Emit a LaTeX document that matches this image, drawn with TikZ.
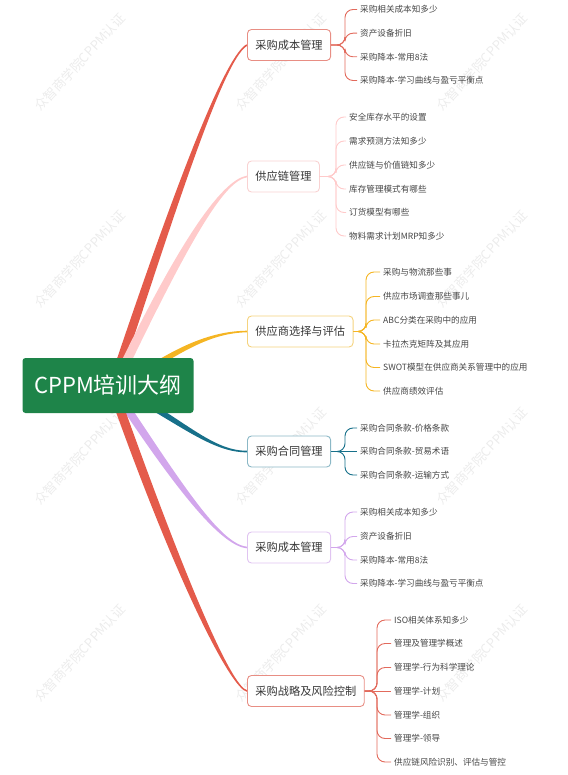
\documentclass[tikz,border=0pt]{standalone}
\usepackage{fontspec}
\setmainfont{Noto Sans CJK SC}
\usetikzlibrary{calc,backgrounds}
\definecolor{rootgreen}{HTML}{1E8449}
\definecolor{cred}{HTML}{E45B4B}
\definecolor{credbox}{HTML}{E88E84}
\definecolor{credleaf}{HTML}{E26A5C}
\definecolor{cpink}{HTML}{FFCACA}
\definecolor{cpinkbox}{HTML}{F9D2D2}
\definecolor{cyellow}{HTML}{F5B523}
\definecolor{cyellowbox}{HTML}{F5D37E}
\definecolor{cteal}{HTML}{17708A}
\definecolor{ctealbox}{HTML}{8BB8C6}
\definecolor{cpurple}{HTML}{D2A6EC}
\definecolor{cpurplebox}{HTML}{E0C4F1}
\definecolor{txtdark}{HTML}{363636}
\definecolor{txtleaf}{HTML}{454545}
\definecolor{wmgray}{HTML}{ECECEC}
\newcommand\taperline[7]{%
  \fill[#1] ($(#2)!#6!90:(#3)$) .. controls ($(#3)!#6!-90:(#2)$) and ($(#4)!#7!90:(#5)$) .. ($(#5)!#7!-90:(#4)$)
    -- ($(#5)!#7!90:(#4)$) .. controls ($(#4)!#7!-90:(#5)$) and ($(#3)!#6!90:(#2)$) .. ($(#2)!#6!-90:(#3)$) -- cycle;}
\tikzset{
  rootbox/.style={fill=rootgreen, rounded corners=3pt, minimum width=171pt, minimum height=55pt,
    text=white, font=\fontsize{22}{26}\selectfont, inner sep=0pt},
  branchbox/.style={draw=#1, fill=white, line width=0.9pt, rounded corners=4pt, minimum height=31pt,
    inner xsep=8pt, inner ysep=0pt, anchor=west, text=txtdark, font=\fontsize{11.2}{13}\selectfont},
  leafnode/.style={anchor=west, inner xsep=3pt, inner ysep=1pt, text=txtleaf,
    font=\fontsize{8.6}{10}\selectfont},
  leaflink/.style={draw=#1, line width=0.9pt, rounded corners=8pt},
  wmark/.style={text=wmgray, rotate=47, font=\fontsize{13}{15}\selectfont, inner sep=0pt}
}
\begin{document}
\begin{tikzpicture}[x=1pt,y=-1pt]
\useasboundingbox (0,0) rectangle (567,775);

% ---------- nodes ----------
\node[rootbox] (root) at (108,385.5) {CPPM培训大纲};

\node[branchbox=credbox]    (b1) at (247,45)    {采购成本管理};
\node[branchbox=cpinkbox]   (b2) at (247,176.5) {供应链管理};
\node[branchbox=cyellowbox] (b3) at (247,331.5) {供应商选择与评估};
\node[branchbox=ctealbox]   (b4) at (247,451.5) {采购合同管理};
\node[branchbox=cpurplebox] (b5) at (247,547.5) {采购成本管理};
\node[branchbox=credbox]    (b6) at (247,691)   {采购战略及风险控制};

% leaves branch 1
\node[leafnode] (l11) at (357,9.5)  {采购相关成本知多少};
\node[leafnode] (l12) at (357,33.2) {资产设备折旧};
\node[leafnode] (l13) at (357,56.8) {采购降本-常用8法};
\node[leafnode] (l14) at (357,80.5) {采购降本-学习曲线与盈亏平衡点};
% leaves branch 2
\node[leafnode] (l21) at (346,117) {安全库存水平的设置};
\node[leafnode] (l22) at (346,141) {需求预测方法知多少};
\node[leafnode] (l23) at (346,165) {供应链与价值链知多少};
\node[leafnode] (l24) at (346,189) {库存管理模式有哪些};
\node[leafnode] (l25) at (346,212.5) {订货模型有哪些};
\node[leafnode] (l26) at (346,236) {物料需求计划MRP知多少};
% leaves branch 3
\node[leafnode] (l31) at (380,272) {采购与物流那些事};
\node[leafnode] (l32) at (380,296.5) {供应市场调查那些事儿};
\node[leafnode] (l33) at (380,320) {ABC分类在采购中的应用};
\node[leafnode] (l34) at (380,344) {卡拉杰克矩阵及其应用};
\node[leafnode] (l35) at (380,367.5) {SWOT模型在供应商关系管理中的应用};
\node[leafnode] (l36) at (380,391) {供应商绩效评估};
% leaves branch 4
\node[leafnode] (l41) at (357,428) {采购合同条款-价格条款};
\node[leafnode] (l42) at (357,451.5) {采购合同条款-贸易术语};
\node[leafnode] (l43) at (357,475) {采购合同条款-运输方式};
% leaves branch 5
\node[leafnode] (l51) at (357,512) {采购相关成本知多少};
\node[leafnode] (l52) at (357,536.5) {资产设备折旧};
\node[leafnode] (l53) at (357,560) {采购降本-常用8法};
\node[leafnode] (l54) at (357,583.5) {采购降本-学习曲线与盈亏平衡点};
% leaves branch 6
\node[leafnode] (l61) at (391,620) {ISO相关体系知多少};
\node[leafnode] (l62) at (391,643.5) {管理及管理学概述};
\node[leafnode] (l63) at (391,667.5) {管理学-行为科学理论};
\node[leafnode] (l64) at (391,691) {管理学-计划};
\node[leafnode] (l65) at (391,715) {管理学-组织};
\node[leafnode] (l66) at (391,738.5) {管理学-领导};
\node[leafnode] (l67) at (391,762) {供应链风险识别、评估与管控};

% spine positions
\coordinate (s1) at (345,0);
\coordinate (s2) at (336,0);
\coordinate (s3) at (366,0);
\coordinate (s4) at (345,0);
\coordinate (s5) at (345,0);
\coordinate (s6) at (377,0);

% ---------- leaf connectors ----------
\foreach \l in {l11,l12,l13,l14}
  \draw[leaflink=credleaf] (b1.east) -- (b1.east -| s1) |- (\l.west);
\foreach \l in {l21,l22,l23,l24,l25,l26}
  \draw[leaflink=cpink] (b2.east) -- (b2.east -| s2) |- (\l.west);
\foreach \l in {l31,l32,l33,l34,l35,l36}
  \draw[leaflink=cyellow] (b3.east) -- (b3.east -| s3) |- (\l.west);
\foreach \l in {l41,l43}
  \draw[leaflink=cteal] (b4.east) -- (b4.east -| s4) |- (\l.west);
\draw[leaflink=cteal] (b4.east) -- (l42.west);
\foreach \l in {l51,l52,l53,l54}
  \draw[leaflink=cpurple] (b5.east) -- (b5.east -| s5) |- (\l.west);
\foreach \l in {l61,l62,l63,l65,l66,l67}
  \draw[leaflink=credleaf] (b6.east) -- (b6.east -| s6) |- (\l.west);
\draw[leaflink=credleaf] (b6.east) -- (l64.west);

% ---------- background: watermarks and main branches ----------
\begin{pgfonlayer}{background}
  \foreach \wx/\wy [count=\i] in {80/62,281/62,482/62,80/259,281/259,482/259,80/456,281/456,482/456,80/653,281/653,482/653}
    \node[wmark] (wm\i) at (\wx,\wy) {众智商学院CPPM认证};

  \coordinate (r1a) at (113,385);
  \coordinate (r1b) at (165,230);
  \coordinate (r1c) at (222,58);
  \taperline{cred}{r1a}{r1b}{r1c}{b1.west}{4.6pt}{0.8pt}

  \coordinate (r2a) at (115,385);
  \coordinate (r2b) at (189,230);
  \coordinate (r2c) at (225,180);
  \taperline{cpink}{r2a}{r2b}{r2c}{b2.west}{4.6pt}{0.8pt}

  \coordinate (r3a) at (140,375);
  \coordinate (r3b) at (185,345);
  \coordinate (r3c) at (215,332);
  \taperline{cyellow}{r3a}{r3b}{r3c}{b3.west}{3pt}{0.8pt}

  \coordinate (r4a) at (140,400);
  \coordinate (r4b) at (185,425);
  \coordinate (r4c) at (215,452);
  \taperline{cteal}{r4a}{r4b}{r4c}{b4.west}{3pt}{0.8pt}

  \coordinate (r5a) at (118,395);
  \coordinate (r5b) at (178,485);
  \coordinate (r5c) at (220,545);
  \taperline{cpurple}{r5a}{r5b}{r5c}{b5.west}{4pt}{0.8pt}

  \coordinate (r6a) at (113,390);
  \coordinate (r6b) at (184,590);
  \coordinate (r6c) at (232,688);
  \taperline{cred}{r6a}{r6b}{r6c}{b6.west}{4.6pt}{0.8pt}
\end{pgfonlayer}
\end{tikzpicture}
\end{document}
